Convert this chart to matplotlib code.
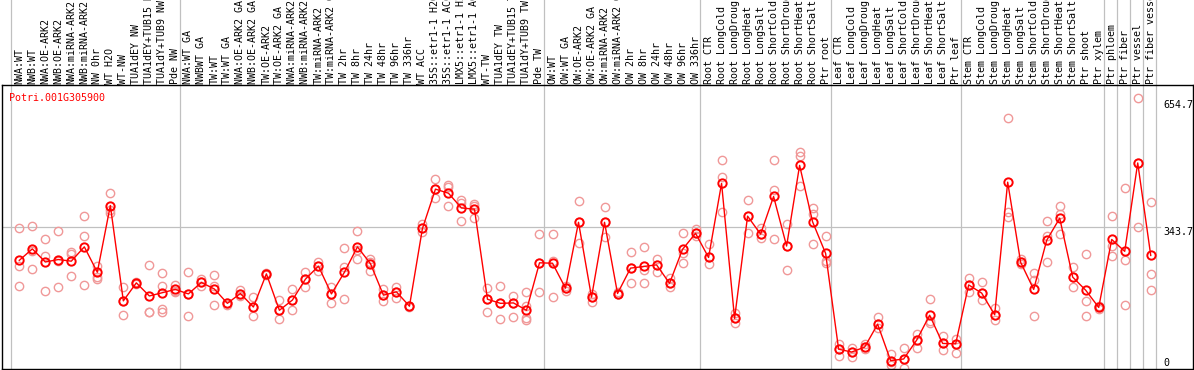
import numpy as np
import matplotlib
matplotlib.use("Agg")
import matplotlib.pyplot as plt
import matplotlib.transforms as mtransforms

# Sample labels
labels = [
    "NWA:WT", "NWB:WT", "NWA:OE-ARK2", "NWB:OE-ARK2", "NWA:miRNA-ARK2", "NWB:miRNA-ARK2",
    "NW 0hr", "WT H2O", "WT-NW", "TUA1dEY NW", "TUA1dEY+TUB15 NW", "TUA1dY+TUB9 NW", "Pde NW",
    "NWA:WT GA", "NWBWT GA", "TW:WT", "TW:WT GA", "NWA:OE-ARK2 GA", "NWB:OE-ARK2 GA",
    "TW:OE-ARK2", "TW:OE-ARK2 GA", "NWA:miRNA-ARK2 GA", "NWB:miRNA-ARK2 GA", "TW:miRNA-ARK2",
    "TW:miRNA-ARK2 GA", "TW 2hr", "TW 8hr", "TW 24hr", "TW 48hr", "TW 96hr", "TW 336hr",
    "WT ACC", "35S::etr1-1 H2O", "35S::etr1-1 ACC", "LMX5::etr1-1 H2O", "LMX5::etr1-1 ACC",
    "WT-TW", "TUA1dEY TW", "TUA1dEY+TUB15 TW", "TUA1dY+TUB9 TW", "Pde TW",
    "OW:WT", "OW:WT GA", "OW:OE-ARK2", "OW:OE-ARK2 GA", "OW:miRNA-ARK2", "OW:miRNA-ARK2 GA",
    "OW 2hr", "OW 8hr", "OW 24hr", "OW 48hr", "OW 96hr", "OW 336hr",
    "Root CTR", "Root LongCold", "Root LongDrought", "Root LongHeat", "Root LongSalt",
    "Root ShortCold", "Root ShortDrought", "Root ShortHeat", "Root ShortSalt", "Ptr root",
    "Leaf CTR", "Leaf LongCold", "Leaf LongDrought", "Leaf LongHeat", "Leaf LongSalt",
    "Leaf ShortCold", "Leaf ShortDrought", "Leaf ShortHeat", "Leaf ShortSalt", "Ptr leaf",
    "Stem CTR", "Stem LongCold", "Stem LongDrought", "Stem LongHeat", "Stem LongSalt",
    "Stem ShortCold", "Stem ShortDrought", "Stem ShortHeat", "Stem ShortSalt", "Ptr shoot",
    "Ptr xylem", "Ptr phloem", "Ptr fiber", "Ptr vessel", "Ptr fiber vessel",
]

# number of samples in each group (separated by vertical lines)
group_sizes = [13, 28, 12, 10, 10, 11, 1, 1, 1, 1]

means = [
    263, 291, 259, 265, 261, 296, 234, 397, 164, 208, 176, 184, 192,
    181, 209, 193, 158, 182, 149, 230, 141, 166, 217, 249, 181, 234, 296, 255, 178, 186, 151,
    341, 437, 427, 391, 388, 168, 158, 159, 141, 257,
    256, 195, 356, 173, 356, 182, 244, 248, 252, 207, 290, 329,
    270, 451, 121, 371, 327, 419, 298, 495, 357, 280,
    46, 39, 51, 107, 18, 22, 68, 129, 60, 59,
    203, 183, 130, 454, 258, 192, 312, 366, 222, 190, 148,
    314, 285, 501, 275,
]

replicates = [
    [341, 250, 200], [347, 241, 285], [315, 274, 188], [335, 198, 262], [284, 278, 225],
    [371, 322, 203], [250, 223, 217], [427, 386, 379], [199, 129, 164], [210, 205, 208],
    [252, 138, 138], [232, 200, 144, 136], [203, 186, 187],
    [234, 126, 181], [217, 200, 209], [226, 154, 200], [160, 155, 158], [190, 177, 182],
    [173, 126, 149], [232, 228, 230], [166, 119, 141], [192, 142, 166], [235, 198, 217],
    [260, 249, 238], [199, 160, 181], [293, 246, 168], [334, 266, 288], [267, 238, 260],
    [193, 163, 178], [197, 171, 186], [150, 152, 151], [353, 333, 341], [461, 416, 437],
    [447, 395, 443], [410, 359, 402], [401, 366, 396], [195, 136, 168], [200, 119, 158],
    [176, 124, 159], [186, 151, 122, 117], [327, 186, 257],
    [327, 262, 173], [200, 188, 195], [408, 305, 356], [182, 162, 173], [393, 319, 356],
    [185, 180, 182], [283, 208, 244], [296, 208, 239], [266, 234, 252], [221, 198, 207],
    [329, 282, 256], [339, 323, 329],
    [302, 254, 270], [507, 466, 380], [134, 109, 121], [410, 331, 371], [341, 318, 327],
    [507, 435, 315], [351, 239, 298], [528, 518, 444], [390, 376, 303], [322, 262, 257],
    [59, 30, 46], [50, 26, 39], [58, 47, 51], [124, 97, 107], [34, 7, 14],
    [48, 0, 22], [83, 48, 68], [168, 109, 115], [77, 44, 60], [72, 36, 59],
    [219, 185, 203], [209, 166, 183], [146, 117, 130], [610, 382, 370], [266, 253, 258],
    [232, 215, 126], [359, 322, 258], [395, 376, 327], [247, 199, 222], [278, 164, 126],
    [152, 143, 148],
    [371, 298, 273], [439, 263, 153], [659, 344, 501], [405, 229, 190],
]

gene = "Potri.001G305900"
ytick_vals = [654.7, 343.7, 0]

W, H = 1194, 370
mono = "DejaVu Sans Mono"
fs = 7.2
red = "#ff0000"
pink = "#f09898"
grey = "#c0c0c0"

fig = plt.figure(figsize=(W / 100, H / 100), dpi=100)
ax = fig.add_axes([2 / W, 1 / H, 1191 / W, 284 / H])

x = np.arange(1, len(means) + 1)

# replicate points
for xi, reps in zip(x, replicates):
    ax.plot([xi] * len(reps), reps, linestyle="none", marker="o", markersize=6,
            markerfacecolor="none", markeredgecolor=pink, markeredgewidth=1.0, zorder=2)

# mean line
ax.plot(x, means, color=red, linewidth=1.0, marker="o", markersize=6,
        markerfacecolor="none", markeredgecolor=red, markeredgewidth=1.4, zorder=3)

ax.set_xlim(-0.33, 91.25)
ax.set_ylim(-2.44, 691.4)
ax.set_xticks([])
ax.set_yticks([])
for s in ax.spines.values():
    s.set_linewidth(1.0)
    s.set_color("black")

# group separators, running up through the label area
bounds = np.concatenate([[0], np.cumsum(group_sizes)]) + 0.38
for b in bounds:
    ax.axvline(b, ymin=0, ymax=369 / 284, color=grey, linewidth=0.9,
               clip_on=False, zorder=1)

ax.axhline(343.7, xmin=0, xmax=0.972, color=grey, linewidth=0.9, zorder=1)

# right-hand value labels
trans = mtransforms.blended_transform_factory(ax.transAxes, ax.transData)
for v in ytick_vals:
    ax.text(0.9748, v, f"{v:g}", transform=trans, family=mono, fontsize=fs,
            ha="left", va="bottom" if v == 0 else "top", clip_on=False)

# sample labels above the plot
for xi, lab in zip(x, labels):
    ax.text(xi, 1.0 + 1.5 / 284, lab, transform=mtransforms.blended_transform_factory(ax.transData, ax.transAxes),
            rotation=90, ha="center", va="bottom", family=mono, fontsize=fs, clip_on=False)

ax.text(0.006, 0.972, gene, transform=ax.transAxes, color=red, family=mono,
        fontsize=fs, ha="left", va="top")

fig.savefig("out.png", dpi=100)
